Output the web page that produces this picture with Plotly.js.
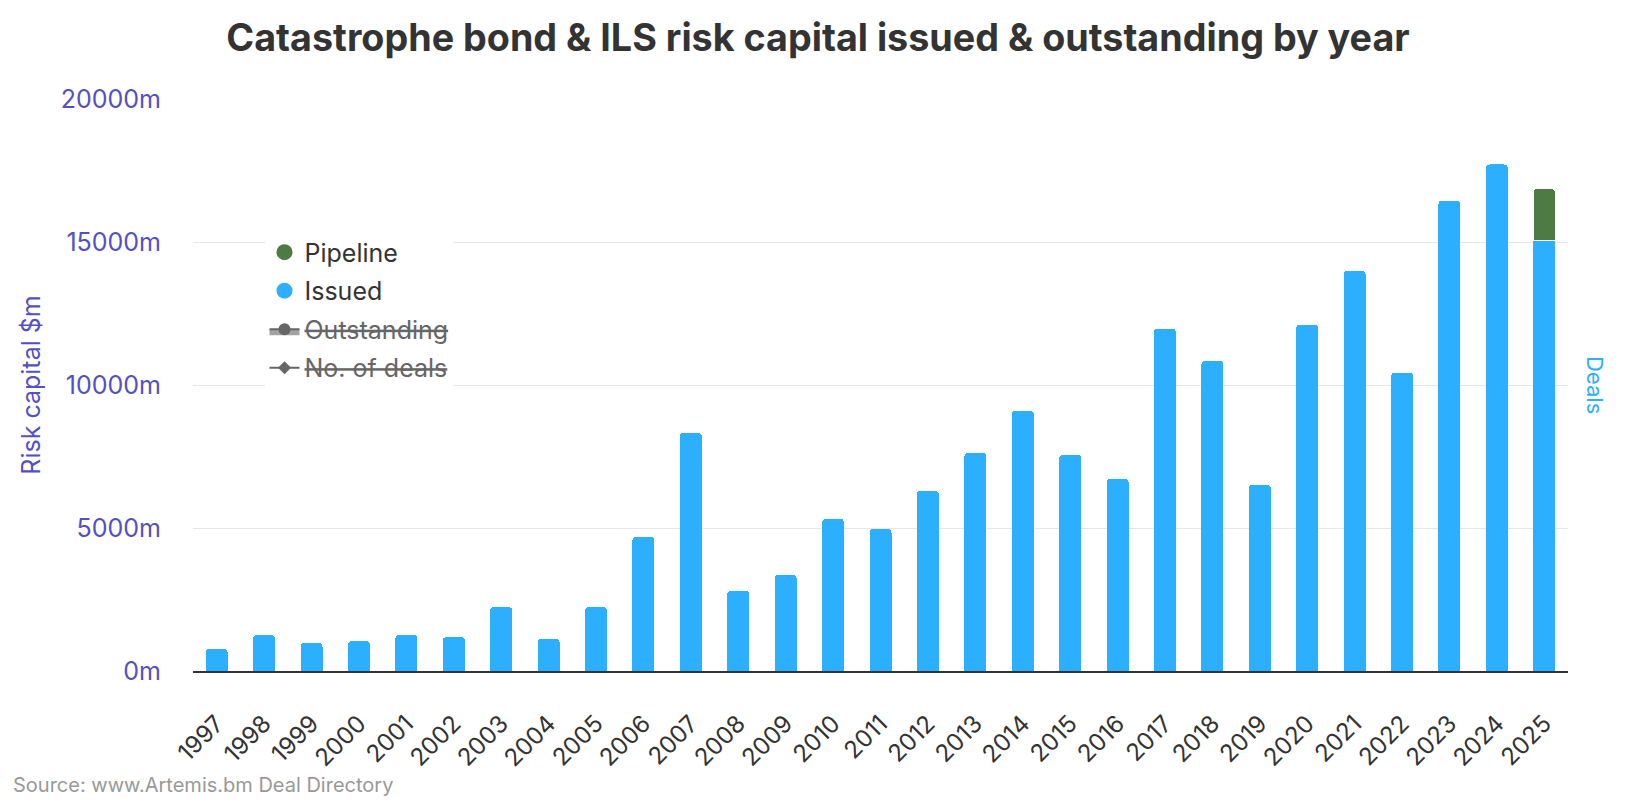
<!DOCTYPE html>
<html>
<head>
<meta charset="utf-8">
<script src="https://cdn.plot.ly/plotly-3.0.1.min.js"></script>
<style>
  html, body { margin: 0; padding: 0; background: #ffffff; }
  #chart { width: 1636px; height: 804px; }
</style>
</head>
<body>
<div id="chart"></div>
<script>
// ---- data ----
var years = ["1997","1998","1999","2000","2001","2002","2003","2004","2005","2006",
             "2007","2008","2009","2010","2011","2012","2013","2014","2015","2016",
             "2017","2018","2019","2020","2021","2022","2023","2024","2025"];
var issued = [770, 1260, 990, 1050, 1260, 1190, 2240, 1120, 2240, 4690,
              8330, 2800, 3360, 5320, 4970, 6300, 7630, 9100, 7560, 6720,
              11970, 10850, 6510, 12110, 14000, 10430, 16450, 17710, 15050];
var pipelineYears = ["2025"];
var pipeline = [1820];
var yMax = 20000;
var yStep = 5000;

var FONT = "Inter, 'Noto Sans', sans-serif";
var BLUE = "#2caffe";
var GREEN = "#4e7a43";
var PURPLE = "#544fc5";
var GREY = "#666666";

var traces = [
  { // issued bars
    type: "bar", name: "Issued", x: years, y: issued,
    marker: { color: BLUE, line: { width: 0 } },
    showlegend: false, hoverinfo: "x+y"
  },
  { // pipeline bars stacked on top
    type: "bar", name: "Pipeline", x: pipelineYears, y: pipeline,
    marker: { color: GREEN, line: { color: "#ffffff", width: 1 } },
    showlegend: false, hoverinfo: "x+y"
  },
  // legend entries (no visible data)
  { type: "scatter", mode: "markers", name: "Pipeline", x: [years[0]], y: [null],
    marker: { color: GREEN, size: 22, symbol: "circle" }, showlegend: true,
    legendgroup: "a", legendrank: 1, hoverinfo: "skip" },
  { type: "scatter", mode: "markers", name: "Issued", x: [years[0]], y: [null],
    marker: { color: BLUE, size: 22, symbol: "circle" }, showlegend: true,
    legendgroup: "b", legendrank: 2, hoverinfo: "skip" },
  { type: "scatter", mode: "lines+markers", x: [years[0]], y: [null], showlegend: true,
    name: '<span style="color:#666666;text-decoration:line-through">Outstanding</span>',
    line: { color: GREY, width: 2 }, fill: "tozeroy", fillcolor: "rgba(102,102,102,0.6)",
    marker: { color: GREY, size: 12, symbol: "circle" },
    legendgroup: "c", legendrank: 3, hoverinfo: "skip" },
  { type: "scatter", mode: "lines+markers", x: [years[0]], y: [null], yaxis: "y2", showlegend: true,
    name: '<span style="color:#666666;text-decoration:line-through">No. of deals</span>',
    line: { color: GREY, width: 2 },
    marker: { color: GREY, size: 10, symbol: "diamond" },
    legendgroup: "d", legendrank: 4, hoverinfo: "skip" }
];

var layout = {
  width: 1636, height: 804,
  margin: { l: 193, r: 68, t: 99, b: 133, pad: 0 },
  paper_bgcolor: "#ffffff", plot_bgcolor: "#ffffff",
  font: { family: FONT, color: "#333333" },
  barmode: "stack",
  bargap: 0.536,
  barcornerradius: 4,
  showlegend: true,
  title: {
    text: "<b>Catastrophe bond &amp; ILS risk capital issued &amp; outstanding by year</b>",
    font: { family: FONT, size: 37.7, color: "#333333" },
    x: 0.5, xref: "container", xanchor: "center",
    y: 1 - 38 / 804, yref: "container", yanchor: "middle"
  },
  xaxis: {
    type: "category", categoryorder: "array", categoryarray: years,
    range: [-0.5, years.length - 0.5], autorange: false,
    tickangle: -45,
    tickfont: { family: FONT, size: 24, color: "#333333" },
    showline: true, linecolor: "#333333", linewidth: 2,
    ticks: "", showgrid: false, zeroline: false,
    ticklabelstandoff: 27
  },
  yaxis: {
    range: [0, yMax], autorange: false, tickmode: "linear", tick0: 0, dtick: yStep,
    tickformat: "d", ticksuffix: "m", showticksuffix: "all",
    tickfont: { family: FONT, size: 25, color: PURPLE },
    gridcolor: "#e6e6e6", gridwidth: 1,
    zeroline: false, showline: false, ticks: "",
    ticklabelstandoff: 31,
    title: { text: "Risk capital $m", font: { family: FONT, size: 25, color: PURPLE }, standoff: 13 }
  },
  yaxis2: {
    overlaying: "y", side: "right", range: [0, 100], autorange: false,
    showgrid: false, showticklabels: false, zeroline: false, showline: false, ticks: ""
  },
  legend: {
    x: 0.052, y: 0.772, xanchor: "left", yanchor: "top",
    bgcolor: "#ffffff", borderwidth: 0,
    font: { family: FONT, size: 25, color: "#333333" },
    traceorder: "grouped", tracegroupgap: 3,
    itemclick: false, itemdoubleclick: false
  },
  annotations: [
    { text: "Deals", xref: "paper", yref: "paper", x: 1.0196, y: 0.5,
      xanchor: "center", yanchor: "middle", textangle: 90, showarrow: false,
      font: { family: FONT, size: 22, color: BLUE } },
    { text: "Source: www.Artemis.bm Deal Directory", xref: "paper", yref: "paper",
      x: -0.1323, y: -0.1993, xanchor: "left", yanchor: "middle", showarrow: false,
      font: { family: FONT, size: 20, color: "#999999" } }
  ]
};

Plotly.newPlot("chart", traces, layout, { displayModeBar: false });
</script>
</body>
</html>
